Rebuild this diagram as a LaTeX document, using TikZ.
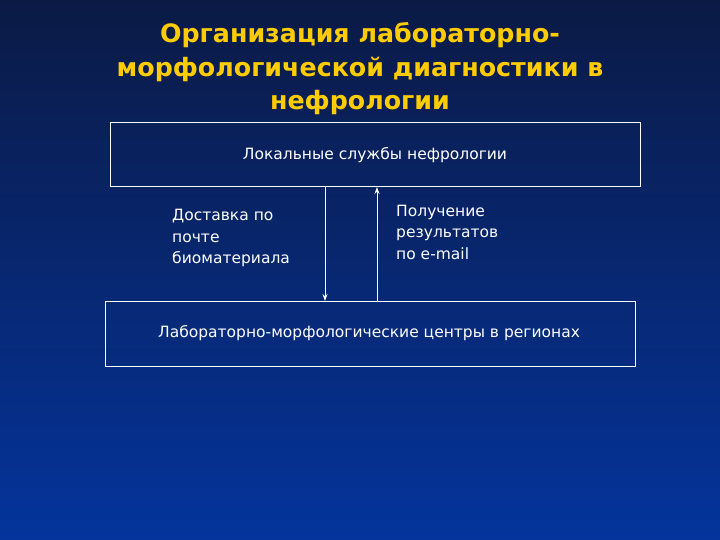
\documentclass[tikz,border=0pt]{standalone}
\usepackage{fontspec}
\setmainfont{DejaVu Sans}
\usetikzlibrary{arrows.meta}
\definecolor{bgtop}{HTML}{0B1A45}
\definecolor{bgbot}{HTML}{04349C}
\definecolor{ttl}{HTML}{FFCC00}
\begin{document}
\begin{tikzpicture}[x=1pt,y=-1pt,
  box/.style={draw=white,line width=1pt},
  lbl/.style={text=white,font=\fontsize{15.5}{18}\selectfont,inner sep=0pt},
  side/.style={text=white,font=\fontsize{15.5}{21.5}\selectfont,inner sep=0pt,align=left,anchor=north west},
  ttlstyle/.style={text=ttl,font=\bfseries\fontsize{25.3}{33.5}\selectfont,align=center,inner sep=0pt},
  arr/.style={draw=white,line width=1pt,-{Stealth[length=7pt,width=5pt]}}]
\shade[top color=bgtop,bottom color=bgbot] (0,0) rectangle (720,540);
\useasboundingbox (0,0) rectangle (720,540);
\node[ttlstyle] (title) at (360,69) {Организация лабораторно-\\морфологической диагностики в\\нефрологии};
\node[box,minimum width=530,minimum height=64,inner sep=0pt] (top) at (375,155) {};
\node[lbl] (toplbl) at (375,155) {Локальные службы нефрологии};
\node[box,minimum width=530,minimum height=65,inner sep=0pt] (bot) at (370,333.5) {};
\node[lbl] (botlbl) at (369,333) {Лабораторно-морфологические центры в регионах};
\coordinate (d1) at (325,187);
\coordinate (d2) at (325,301);
\coordinate (u1) at (377,301);
\coordinate (u2) at (377,187);
\draw[arr] (d1) -- (d2);
\draw[arr] (u1) -- (u2);
\node[side] (left) at (172,209) {Доставка по\\почте\\биоматериала};
\node[side] (right) at (396,205) {Получение\\результатов\\по e-mail};
\end{tikzpicture}
\end{document}
